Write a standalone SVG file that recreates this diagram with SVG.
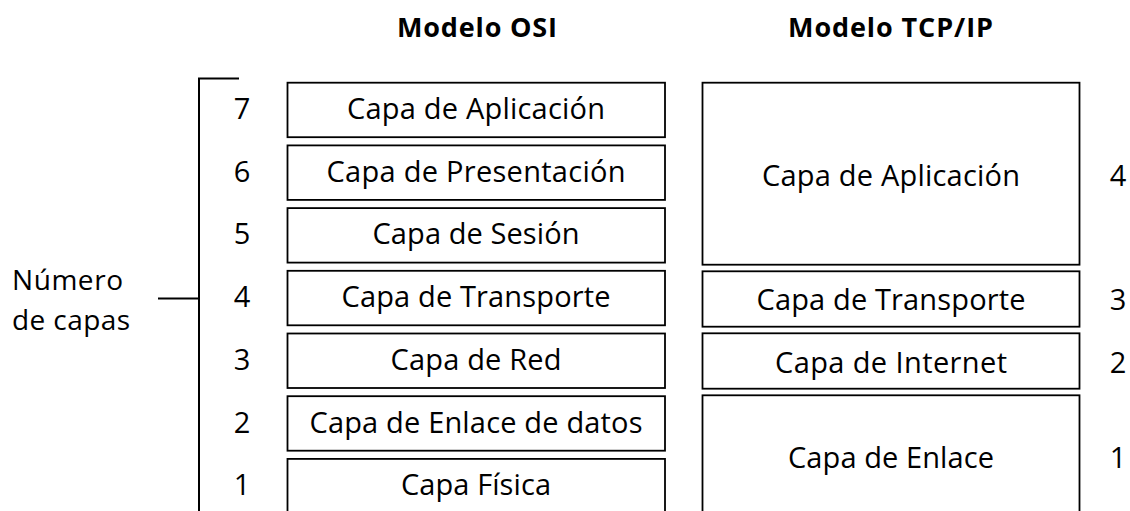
<svg xmlns="http://www.w3.org/2000/svg" width="1130" height="511" viewBox="0 0 1130 511">
<style>
.box{fill:#fff;stroke:#000;stroke-width:1.8}
.lbl{font-family:"Open Sans","Noto Sans","Liberation Sans",sans-serif;font-size:29px;fill:#000;text-anchor:middle}
.num{font-family:"Open Sans","Noto Sans","Liberation Sans",sans-serif;font-size:29px;fill:#000;text-anchor:middle}
.ttl{font-family:"Open Sans","Noto Sans","Liberation Sans",sans-serif;font-size:27px;font-weight:bold;fill:#000}
.side{font-family:"Open Sans","Noto Sans","Liberation Sans",sans-serif;font-size:28px;fill:#000}
.ln{stroke:#000;stroke-width:2;fill:none}
</style>
<rect width="1130" height="511" fill="#fff"/>
<text class="ttl" x="397" y="37" textLength="160">Modelo OSI</text>
<text class="ttl" x="788" y="37" textLength="205">Modelo TCP/IP</text>
<g id="label-numero">
<text class="side" x="12" y="290" textLength="111">Número</text>
<text class="side" x="12" y="330" textLength="118">de capas</text>
</g>
<g id="connectors">
<path class="ln" d="M239,78.5 H199 V515"/>
<path class="ln" d="M158,298.5 H199"/>
</g>
<g id="osi-7"><rect class="box" x="287.5" y="82.7" width="377.5" height="54.5"/><text class="lbl" x="476" y="119" textLength="258">Capa de Aplicación</text><text class="num" x="242" y="119">7</text></g>
<g id="osi-6"><rect class="box" x="287.5" y="145.4" width="377.5" height="54.5"/><text class="lbl" x="476" y="181.7" textLength="299">Capa de Presentación</text><text class="num" x="242" y="181.7">6</text></g>
<g id="osi-5"><rect class="box" x="287.5" y="208.1" width="377.5" height="54.5"/><text class="lbl" x="476" y="244.4" textLength="207">Capa de Sesión</text><text class="num" x="242" y="244.4">5</text></g>
<g id="osi-4"><rect class="box" x="287.5" y="270.8" width="377.5" height="54.5"/><text class="lbl" x="476" y="307.1" textLength="269">Capa de Transporte</text><text class="num" x="242" y="307.1">4</text></g>
<g id="osi-3"><rect class="box" x="287.5" y="333.5" width="377.5" height="54.5"/><text class="lbl" x="476" y="369.8" textLength="171">Capa de Red</text><text class="num" x="242" y="369.8">3</text></g>
<g id="osi-2"><rect class="box" x="287.5" y="396.2" width="377.5" height="54.5"/><text class="lbl" x="476" y="432.5" textLength="333">Capa de Enlace de datos</text><text class="num" x="242" y="432.5">2</text></g>
<g id="osi-1"><rect class="box" x="287.5" y="458.9" width="377.5" height="54.5"/><text class="lbl" x="476" y="495.2" textLength="150">Capa Física</text><text class="num" x="242" y="495.2">1</text></g>
<g id="tcp-4"><rect class="box" x="702.5" y="82.7" width="377" height="182"/><text class="lbl" x="891" y="185.5" textLength="258">Capa de Aplicación</text><text class="num" x="1118" y="185.5">4</text></g>
<g id="tcp-3"><rect class="box" x="702.5" y="271.3" width="377" height="55.4"/><text class="lbl" x="891" y="310" textLength="269">Capa de Transporte</text><text class="num" x="1118" y="310">3</text></g>
<g id="tcp-2"><rect class="box" x="702.5" y="333.3" width="377" height="55.4"/><text class="lbl" x="891" y="372.5" textLength="232">Capa de Internet</text><text class="num" x="1118" y="372.5">2</text></g>
<g id="tcp-1"><rect class="box" x="702.5" y="395.3" width="377" height="123"/><text class="lbl" x="891" y="468" textLength="206">Capa de Enlace</text><text class="num" x="1118" y="468">1</text></g>
</svg>
